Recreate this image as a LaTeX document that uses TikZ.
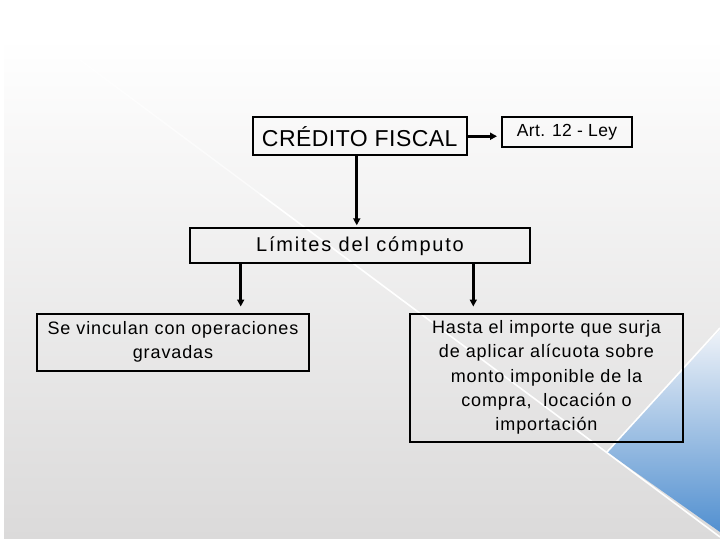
\documentclass[tikz,border=0pt]{standalone}
\usepackage{fontspec}
\setmainfont{Liberation Sans}
\newfontfamily\lsA[LetterSpace=2]{Liberation Sans}
\newfontfamily\lsB[LetterSpace=9]{Liberation Sans}
\newfontfamily\lsC[LetterSpace=5]{Liberation Sans}
\usetikzlibrary{arrows.meta,calc}
\definecolor{panelbot}{HTML}{DBDADA}
\definecolor{bluedark}{HTML}{5290D0}
\definecolor{bluelight}{HTML}{EEF2F8}
\tikzset{
  box/.style={draw=black, line width=2pt, rectangle, align=center, inner sep=0pt},
  arr/.style={draw=black, line width=2.6pt, -{Triangle[width=7pt,length=7pt]}},
}
\begin{document}
\begin{tikzpicture}[x=1pt,y=-1pt]
\useasboundingbox (0,0) rectangle (720,540);
\fill[white] (0,0) rectangle (720,540);
% background panel
\shade[top color=white, bottom color=panelbot] (4,38) rectangle (720,538);
% blue triangle
\shade[shading=axis, shading angle=35, top color=bluelight, bottom color=bluedark]
  (607,452) -- (720,330) -- (720,532) -- cycle;
% white diagonal lines
\draw[white, line width=1.4pt, opacity=0.6] (80,60) -- (260,194);
\draw[white, line width=1.6pt] (260,194) -- (720,537);
\draw[white, line width=1.6pt] (607,452) -- (720,328);

% nodes
\node[box, minimum width=214.5pt, minimum height=37.5pt, font=\lsA\fontsize{23}{26}\selectfont]
  (cf) at (359.75,136.25) {CRÉDITO FISCAL};
\node[box, minimum width=130pt, minimum height=29.7pt, font=\lsA\fontsize{17.5}{20}\selectfont]
  (art) at (567,132) {Art. 12 - Ley};
\node[box, minimum width=340pt, minimum height=35pt, font=\lsB\fontsize{20}{24}\selectfont]
  (lim) at (360,245.8) {Límites del cómputo};
\node[box, minimum width=272pt, minimum height=57pt, font=\lsC\fontsize{18}{24.3}\selectfont]
  (left) at (173,342) {Se vinculan con operaciones\\gravadas};
\node[box, minimum width=273pt, minimum height=128pt, font=\lsC\fontsize{18}{24.3}\selectfont]
  (right) at (546.5,377.5) {Hasta el importe que surja\\de aplicar alícuota sobre\\monto imponible de la\\compra,\ \ locación o\\importación};

% connectors
\draw[arr, shorten >=4pt] (cf.east) -- (cf.east -| art.west);
\draw[arr, shorten >=2pt] ([xshift=-3pt]cf.south) -- ([xshift=-3pt]cf.south |- lim.north);
\draw[arr, shorten >=6pt] (lim.south -| 240.7,0) -- (left.north -| 240.7,0);
\draw[arr, shorten >=6pt] (lim.south -| 473.3,0) -- (right.north -| 473.3,0);
\end{tikzpicture}
\end{document}
